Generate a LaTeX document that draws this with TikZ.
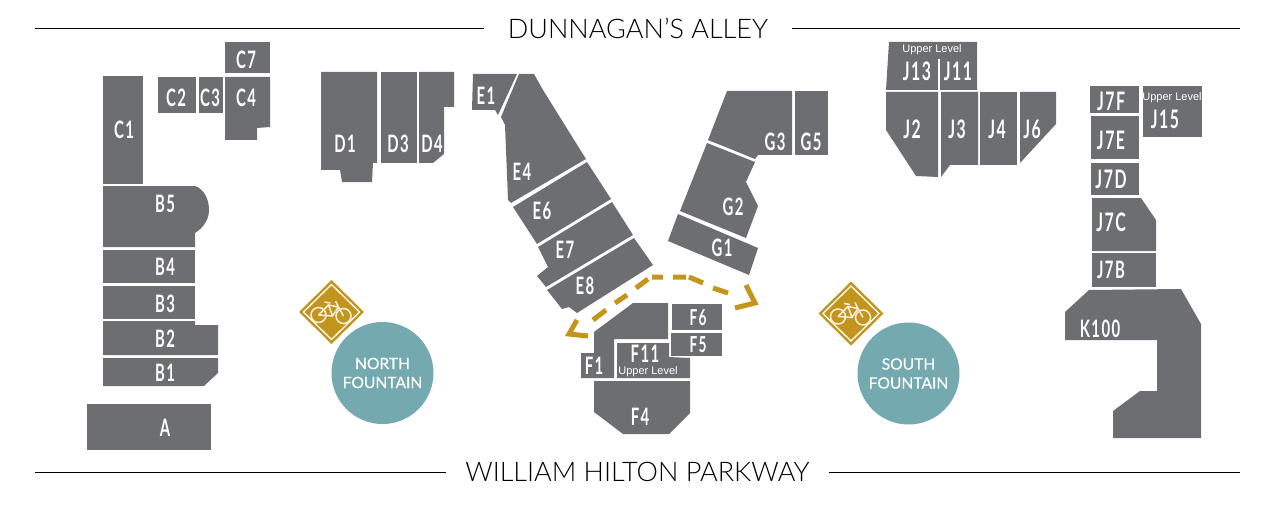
\documentclass[tikz,border=0pt]{standalone}
\usepackage{fontspec}
\usepackage{tikz}
\setmainfont{Lato}
\newfontfamily\unitfont[FakeStretch=.62,LetterSpace=6]{Lato}
\newfontfamily\upperfont{Liberation Sans}
\newfontfamily\streetfont[UprightFont=* Light]{Lato}
\newfontfamily\poolfont[FakeBold=.4]{Lato}
\definecolor{shopGray}{RGB}{109,110,114}
\definecolor{bikeGold}{RGB}{196,149,29}
\definecolor{poolTeal}{RGB}{115,169,175}

\newcommand{\bikesign}[2]{
\fill[bikeGold] (#1-32.5,#2) -- (#1,#2-32) -- (#1+32.5,#2) -- (#1,#2+32) -- cycle;
\draw[white,line width=1.3pt,line join=miter] (#1-28,#2) -- (#1,#2-27.5) -- (#1+28,#2) -- (#1,#2+27.5) -- cycle;
\draw[white!85!bikeGold,line width=1.5pt] (#1-13,#2+3) circle (7.5);
\draw[white!85!bikeGold,line width=1.5pt] (#1+12,#2+4) circle (7.5);
\draw[white!85!bikeGold,line width=1.5pt] (#1-13,#2+3) -- (#1-3,#2-7) -- (#1+7,#2-5) -- (#1+12,#2+4)
  (#1-13,#2+3) -- (#1+1,#2+4) -- (#1+7,#2-5) (#1-3,#2-7) -- (#1+1,#2+4)
  (#1-7,#2-10) -- (#1-1,#2-9) (#1+4,#2-11) -- (#1+7,#2-5);
}

\begin{document}
\begin{tikzpicture}[>=latex,x=1pt,y=-1pt,text centered]
\useasboundingbox (0,0) rectangle (1280,508);
\tikzstyle{shop}=[fill=shopGray]
\tikzstyle{unit}=[text=white,inner sep=0pt,font=\unitfont\bfseries\fontsize{24}{24}\selectfont]
\tikzstyle{bigunit}=[unit,font=\unitfont\bfseries\fontsize{25.5}{26}\selectfont]
\tikzstyle{smallunit}=[unit,font=\unitfont\bfseries\fontsize{22}{22}\selectfont]
\tikzstyle{upper}=[text=white,inner sep=0pt,font=\upperfont\fontsize{11}{11}\selectfont]
\tikzstyle{title}=[inner sep=0pt,font=\streetfont\fontsize{27}{27}\selectfont]
\tikzstyle{fountain}=[circle,fill=poolTeal,text=white,minimum size=102pt,inner sep=0pt,
  align=center,font=\poolfont\fontsize{15.6}{19}\selectfont]
\tikzstyle{route}=[draw=bikeGold,line width=5pt]

% left block
\fill[shop] (225,42) rectangle (270,73);
\fill[shop] (225,77) -- (270,77) -- (270,127) -- (257,128) -- (257,140) -- (225,140) -- cycle;
\fill[shop] (158,77) rectangle (196,113);
\fill[shop] (199,77) rectangle (223,113);
\fill[shop] (103,76) rectangle (143,184);
\fill[shop] (103,186) -- (195,186) .. controls (204,189) and (209,199) .. (209,210)
  .. controls (209,220) and (203,228) .. (195,233) -- (195,247) -- (103,247) -- cycle;
\fill[shop] (103,250) rectangle (195,283);
\fill[shop] (103,286) rectangle (195,319);
\fill[shop] (103,321) -- (195,321) -- (195,325) -- (218,325) -- (218,355) -- (103,355) -- cycle;
\fill[shop] (103,358) -- (218,358) -- (218,373) -- (204,386) -- (103,386) -- cycle;
\fill[shop] (87,404) rectangle (211,450);

\draw (246,60) node[unit] (cseven) {C7};
\draw (246,98) node[unit] (cfour) {C4};
\draw (176,98) node[unit] (ctwo) {C2};
\draw (210,98) node[unit] (cthree) {C3};
\draw (124,130) node[unit] (cone) {C1};
\draw (165,204) node[unit] (bfive) {B5};
\draw (165,267) node[unit] (bfour) {B4};
\draw (165,304) node[unit] (bthree) {B3};
\draw (165,339) node[unit] (btwo) {B2};
\draw (165,373) node[unit] (bone) {B1};
\draw (165,428) node[unit] (aunit) {A};

% D block
\fill[shop] (321,72) -- (377,72) -- (377,163) -- (373,163) -- (372,182) -- (342,182) -- (340,170) -- (321,170) -- cycle;
\fill[shop] (381,72) rectangle (417,163);
\fill[shop] (419,72) -- (454,72) -- (454,107) -- (444,107) -- (444,154) -- (433,163) -- (419,163) -- cycle;

\draw (345,144) node[unit] (done) {D1};
\draw (398,144) node[unit] (dthree) {D3};
\draw (432,144) node[unit] (dfour) {D4};

% E block
\fill[shop] (473,74) -- (517,74) -- (498,115) -- (495,110) -- (472,110) -- cycle;
\fill[shop] (519,74) -- (534,74) -- (543,90) -- (586,159) -- (511,203) -- (508,200) -- (505,125) -- (501,117) -- cycle;
\fill[shop] (587,162) -- (611,199) -- (537,244) -- (513,207) -- cycle;
\fill[shop] (612,202) -- (633,235) -- (546,287) -- (537,276) -- (548,267) -- (538,247) -- cycle;
\fill[shop] (634,238) -- (653,265) -- (577,313) -- (569,307) -- (562,309) -- (547,290) -- cycle;

\draw (486,96) node[unit] (eone) {E1};
\draw (522,172) node[unit] (efour) {E4};
\draw (542,211) node[unit] (esix) {E6};
\draw (565,250) node[unit] (eseven) {E7};
\draw (585,286) node[unit] (eeight) {E8};

% G block
\fill[shop] (727,91) -- (792,91) -- (792,155) -- (758,155) -- (755,159) -- (708,140) -- cycle;
\fill[shop] (795,91) rectangle (828,155);
\fill[shop] (707,143) -- (755,162) -- (746,182) -- (758,206) -- (746,238) -- (680,211) -- cycle;
\fill[shop] (678,214) -- (758,248) -- (749,275) -- (668,241) -- cycle;

\draw (775,142) node[unit] (gthree) {G3};
\draw (811,142) node[unit] (gfive) {G5};
\draw (733,207) node[unit] (gtwo) {G2};
\draw (722,248) node[unit] (gone) {G1};

% F block
\fill[shop] (672,304) rectangle (722,330);
\fill[shop] (671,333) rectangle (722,356);
\fill[shop] (581,353) -- (594,353) -- (594,332) -- (633,303) -- (668,303) -- (668,339) -- (614,339) -- (614,378) -- (581,378) -- cycle;
\fill[shop] (617,343) -- (669,343) -- (669,357) -- (690,358) -- (690,378) -- (617,378) -- cycle;
\fill[shop] (594,381) -- (690,381) -- (690,413) -- (669,434) -- (623,434) -- (594,412) -- cycle;

\draw (698,318) node[smallunit] (fsix) {F6};
\draw (698,345) node[smallunit] (ffive) {F5};
\draw (594,366) node[unit] (fone) {F1};
\draw (645,353.5) node[unit] (feleven) {F11};
\draw (648,371.5) node[upper] (fupper) {Upper Level};
\draw (640,417) node[unit] (ffour) {F4};

% route arrows
\draw[route] (593,320) -- (606,310) (615,303) -- (627,295) (636,288) -- (648,279)
  (652,277) -- (663,277) (673,277) -- (686,277) (689,277) -- (703,283) (713,288) -- (728,293);
\draw[route] (577,320) -- (569,334) -- (588,336);
\draw[route] (746,285) -- (755,303) -- (735,308);

% J block
\fill[shop] (889,42) -- (977,42) -- (977,90) -- (886,90) -- cycle;
\draw[white,line width=1.2pt] (939,59) -- (939,90);
\fill[shop] (886,92) -- (938,92) -- (938,177) -- (916,176) -- (886,130) -- cycle;
\fill[shop] (941,92) -- (978,92) -- (978,165) -- (950,165) -- (941,177) -- cycle;
\fill[shop] (980,92) rectangle (1017,165);
\fill[shop] (1020,92) -- (1056,92) -- (1056,124) -- (1020,163) -- cycle;

\draw (932,50) node[upper] (jupper) {Upper Level};
\draw (917,71) node[bigunit] (jthirteen) {J13};
\draw (958,71) node[bigunit] (jeleven) {J11};
\draw (912,129) node[bigunit] (jtwo) {J2};
\draw (957,129) node[bigunit] (jthree) {J3};
\draw (997,129) node[bigunit] (jfour) {J4};
\draw (1032,129) node[bigunit] (jsix) {J6};

% J7 column
\fill[shop] (1090,86) rectangle (1139,113);
\fill[shop] (1091,116) rectangle (1139,159);
\fill[shop] (1091,163) rectangle (1139,195);
\fill[shop] (1143,86) rectangle (1202,137);
\fill[shop] (1092,198) -- (1141,198) -- (1156,220) -- (1156,251) -- (1092,251) -- cycle;
\fill[shop] (1092,253) rectangle (1156,287);
\fill[shop] (1089,290) -- (1181,289) -- (1201,324) -- (1201,438) -- (1113,438) -- (1113,411) -- (1140,391)
  -- (1157,391) -- (1157,340) -- (1065,340) -- (1065,312) -- cycle;

\draw (1111,101) node[bigunit] (jsevenf) {J7F};
\draw (1111,140) node[bigunit] (jsevene) {J7E};
\draw (1111,179) node[bigunit] (jsevend) {J7D};
\draw (1111,222) node[bigunit] (jsevenc) {J7C};
\draw (1111,270) node[unit] (jsevenb) {J7B};
\draw (1172,98) node[upper] (jfifteenup) {Upper Level};
\draw (1165,119) node[bigunit] (jfifteen) {J15};
\draw (1100,329) node[unit] (khundred) {K100};

% fountains and bike signs
\bikesign{331.5}{312}
\bikesign{851}{313.5}
\draw (382.5,373) node[fountain] (north) {NORTH\\FOUNTAIN};
\draw (908.5,373.5) node[fountain] (south) {SOUTH\\FOUNTAIN};

% street names
\draw (638,28) node[title,inner xsep=24pt] (alley) {DUNNAGAN’S ALLEY};
\draw (637.5,472) node[title,inner xsep=19pt] (parkway) {WILLIAM HILTON PARKWAY};
\coordinate (alleyleft) at (35,28);
\coordinate (alleyright) at (1240,28);
\coordinate (parkleft) at (35,472);
\coordinate (parkright) at (1240,472);
\draw[line width=.8pt] (alleyleft) -- (alley);
\draw[line width=.8pt] (alley) -- (alleyright);
\draw[line width=.8pt] (parkleft) -- (parkway);
\draw[line width=.8pt] (parkway) -- (parkright);

\end{tikzpicture}
\end{document}
